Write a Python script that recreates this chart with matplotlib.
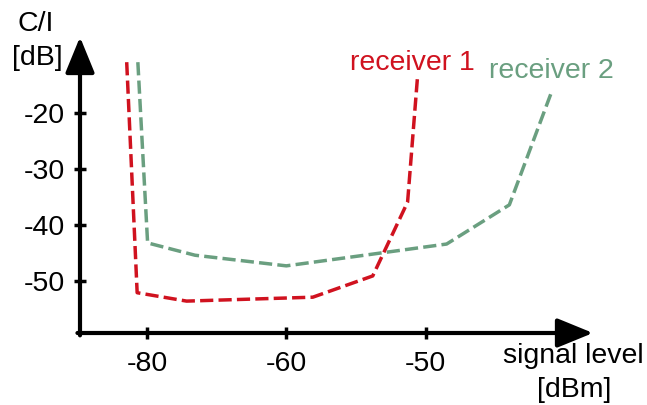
import numpy as np
import matplotlib
matplotlib.use("Agg")
import matplotlib.pyplot as plt

plt.rcParams["font.family"] = ["Liberation Sans", "DejaVu Sans"]

# signal level [dBm] and C/I [dB]
rx1_level = [-82.9, -81.4, -74.3, -58.1, -53.8, -51.3, -50.6]
rx1_ci = [-10.9, -52.1, -53.6, -52.9, -49.1, -35.9, -13.9]
rx2_level = [-81.3, -79.9, -73.1, -60.0, -48.5, -44.0, -41.0]
rx2_ci = [-10.9, -43.2, -45.4, -47.3, -43.4, -36.4, -16.4]

x_ticks = [-80, -60, -50]
y_ticks = [-20, -30, -40, -50]

RED = "#d0121f"
GREEN = "#6a9f80"
W, H = 647, 405
FS = 20.5


# the reference spaces -80, -60, -50 evenly, so use a piecewise linear scale
def fwd(x):
    x = np.asarray(x, dtype=float)
    return np.where(x <= -60, (x + 80) / 20, 1 + (x + 60) / 10)


def inv(u):
    u = np.asarray(u, dtype=float)
    return np.where(u <= 1, -80 + 20 * u, -60 + 10 * (u - 1))


fig = plt.figure(figsize=(W / 100, H / 100), dpi=100)
ax = fig.add_axes([80 / W, (H - 333) / H, 513 / W, 296 / H])
ax.set_xscale("function", functions=(fwd, inv))
ax.set_xlim(float(inv(-0.48)), float(inv(3.2)))
ax.set_ylim(-59.3, -6.4)

dash = (3.8, 1.5)
ax.plot(rx1_level, rx1_ci, color=RED, lw=2.5, dashes=dash, clip_on=False)
ax.plot(rx2_level, rx2_ci, color=GREEN, lw=2.5, dashes=dash, clip_on=False)

for s in ax.spines.values():
    s.set_visible(False)

arrow = dict(arrowstyle="-|>,head_length=1.1,head_width=0.45", lw=3,
             color="k", shrinkA=0, shrinkB=0, mutation_scale=20)
ax.annotate("", xy=(1, 0), xytext=(-0.005, 0), xycoords="axes fraction",
            arrowprops=arrow)
ax.annotate("", xy=(0, 1), xytext=(0, -0.008), xycoords="axes fraction",
            arrowprops=arrow)

ax.set_xticks(x_ticks)
ax.set_xticklabels([str(t) for t in x_ticks])
ax.set_yticks(y_ticks)
ax.set_yticklabels([str(t) for t in y_ticks])
ax.xaxis.set_minor_locator(matplotlib.ticker.NullLocator())
ax.tick_params(direction="inout", length=8, width=2.5, labelsize=FS, pad=9)
ax.tick_params(axis="y", pad=7)

fig.text(36 / W, 1 - 24 / H, "C/I", fontsize=FS, ha="center", va="center")
fig.text(37 / W, 1 - 58 / H, "[dB]", fontsize=FS, ha="center", va="center")
fig.text(573 / W, 1 - 356 / H, "signal level", fontsize=FS, ha="center", va="center")
fig.text(574 / W, 1 - 390 / H, "[dBm]", fontsize=FS, ha="center", va="center")
fig.text(412 / W, 1 - 63 / H, "receiver 1", fontsize=FS, color=RED, ha="center", va="center")
fig.text(551 / W, 1 - 71 / H, "receiver 2", fontsize=FS, color=GREEN, ha="center", va="center")

fig.savefig("out.png", dpi=100)
